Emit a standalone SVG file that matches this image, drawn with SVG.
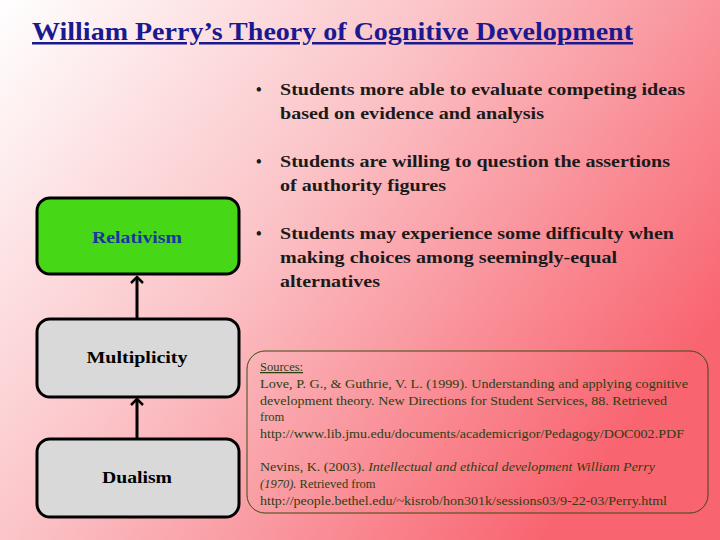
<svg xmlns="http://www.w3.org/2000/svg" width="720" height="540" viewBox="0 0 720 540">
<defs>
<linearGradient id="bg" x1="0" y1="0" x2="1" y2="0.6">
<stop offset="0" stop-color="#ffffff"/>
<stop offset="0.45" stop-color="#fbc4c8"/>
<stop offset="1" stop-color="#f86470"/>
</linearGradient>
<marker id="ah" markerWidth="14" markerHeight="14" refX="10" refY="7" orient="auto" markerUnits="userSpaceOnUse">
<path d="M4,1 L10,7 L4,13" fill="none" stroke="#000" stroke-width="2.5"/>
</marker>
<style>
text{font-family:"Liberation Serif","DejaVu Serif",serif}
.box{stroke:#000;stroke-width:3}
.lbl{font-weight:bold;font-size:16px;text-anchor:middle}
.b{font-weight:bold;font-size:16px;fill:#1a1a1a}
.s{font-size:12.5px;fill:#2e3e10}
</style>
</defs>
<rect width="720" height="540" fill="url(#bg)"/>
<text x="32" y="40" font-weight="bold" font-size="25" fill="#1a1a90" text-decoration="underline" textLength="601" lengthAdjust="spacingAndGlyphs">William Perry’s Theory of Cognitive Development</text>
<g id="connectors" stroke="#000" stroke-width="3" fill="none">
<line x1="137" y1="318" x2="137" y2="277" marker-end="url(#ah)"/>
<line x1="137" y1="438" x2="137" y2="399" marker-end="url(#ah)"/>
</g>
<g id="relativism"><rect class="box" x="37" y="198" width="202" height="76" rx="13" fill="#46d816"/><text class="lbl" x="137" y="243" fill="#1a35a0" textLength="90" lengthAdjust="spacingAndGlyphs">Relativism</text></g>
<g id="multiplicity"><rect class="box" x="37" y="319" width="202" height="78" rx="13" fill="#d9d9d9"/><text class="lbl" x="137" y="363" fill="#000" textLength="101" lengthAdjust="spacingAndGlyphs">Multiplicity</text></g>
<g id="dualism"><rect class="box" x="37" y="439" width="202" height="78" rx="13" fill="#d9d9d9"/><text class="lbl" x="137" y="483" fill="#000" textLength="70" lengthAdjust="spacingAndGlyphs">Dualism</text></g>
<g id="bullets">
<text class="b" x="256" y="95">•</text><text class="b" x="280" y="95" textLength="405" lengthAdjust="spacingAndGlyphs">Students more able to evaluate competing ideas</text><text class="b" x="280" y="119" textLength="264" lengthAdjust="spacingAndGlyphs">based on evidence and analysis</text>
<text class="b" x="256" y="167">•</text><text class="b" x="280" y="167" textLength="390" lengthAdjust="spacingAndGlyphs">Students are willing to question the assertions</text><text class="b" x="280" y="191" textLength="166" lengthAdjust="spacingAndGlyphs">of authority figures</text>
<text class="b" x="256" y="239">•</text><text class="b" x="280" y="239" textLength="394" lengthAdjust="spacingAndGlyphs">Students may experience some difficulty when</text><text class="b" x="280" y="263" textLength="337" lengthAdjust="spacingAndGlyphs">making choices among seemingly-equal</text><text class="b" x="280" y="287" textLength="100" lengthAdjust="spacingAndGlyphs">alternatives</text>
</g>
<g id="sources">
<rect x="247" y="351" width="461" height="162" rx="18" fill="none" stroke="#3a4a10" stroke-width="1"/>
<text class="s" x="260" y="371" text-decoration="underline">Sources:</text>
<text class="s" x="260" y="388" textLength="428" lengthAdjust="spacingAndGlyphs">Love, P. G., &amp; Guthrie, V. L. (1999). Understanding and applying cognitive</text>
<text class="s" x="260" y="405" textLength="407" lengthAdjust="spacingAndGlyphs">development theory. New Directions for Student Services, 88. Retrieved</text>
<text class="s" x="260" y="421">from</text>
<text class="s" x="260" y="438" textLength="424" lengthAdjust="spacingAndGlyphs">http://www.lib.jmu.edu/documents/academicrigor/Pedagogy/DOC002.PDF</text>
<text class="s" x="260" y="471" textLength="395" lengthAdjust="spacingAndGlyphs">Nevins, K. (2003). <tspan font-style="italic">Intellectual and ethical development William Perry</tspan></text>
<text class="s" x="260" y="488"><tspan font-style="italic">(1970).</tspan> Retrieved from</text>
<text class="s" x="260" y="505" textLength="407" lengthAdjust="spacingAndGlyphs">http://people.bethel.edu/~kisrob/hon301k/sessions03/9-22-03/Perry.html</text>
</g>
</svg>
